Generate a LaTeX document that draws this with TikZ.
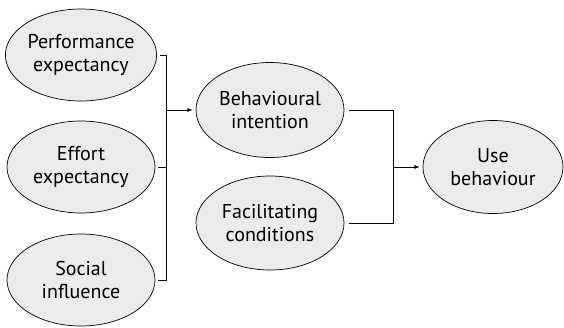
\documentclass[tikz,border=0pt]{standalone}
\usepackage{fontspec}
\setmainfont{PT Sans}
\definecolor{ovalgray}{RGB}{235,235,235}
\tikzset{
  oval/.style={ellipse,draw,fill=ovalgray,line width=0.7pt,inner sep=0pt,
    minimum width=148pt,minimum height=92pt,align=center,
    font=\fontsize{20}{23}\selectfont},
  link/.style={line width=0.8pt}
}
\usetikzlibrary{shapes.geometric}
\begin{document}
\begin{tikzpicture}[x=1pt,y=-1pt]
			\useasboundingbox (0,0) rectangle (564,327);
			% determinantes
			\node[oval] (pe) at (81,55) {Performance\\expectancy};
			\node[oval] (ee) at (81,167) {Effort\\expectancy};
			\node[oval] (si) at (81,280) {Social\\influence};
			\node[oval,minimum height=95pt] (bi) at (270,110) {Behavioural\\intention};
			\node[oval,minimum height=94pt] (fc) at (270,223) {Facilitating\\conditions};
			\node[oval,minimum width=140pt,minimum height=93pt] (ub) at (493,167) {Use\\behaviour};

			\coordinate (jl) at (166,167);
			\coordinate (jr) at (393,167);

			% conexiones
			\draw[link] ([xshift=3pt]pe.east) -| (jl);
			\draw[link] ([xshift=3pt]si.east) -| (jl);
			\draw[link] ([xshift=3pt]ee.east) -- (jl);
			\draw[link] ([xshift=5pt]bi.east) -| (jr);
			\draw[link] ([xshift=5pt]fc.east) -| (jr);
			\begin{scope}[->,>=latex,link]
			\draw (jl |- bi.west) -- ([xshift=-3pt]bi.west);
			\draw (jr) -- ([xshift=-3pt]ub.west);
			\end{scope}
\end{tikzpicture}
\end{document}
